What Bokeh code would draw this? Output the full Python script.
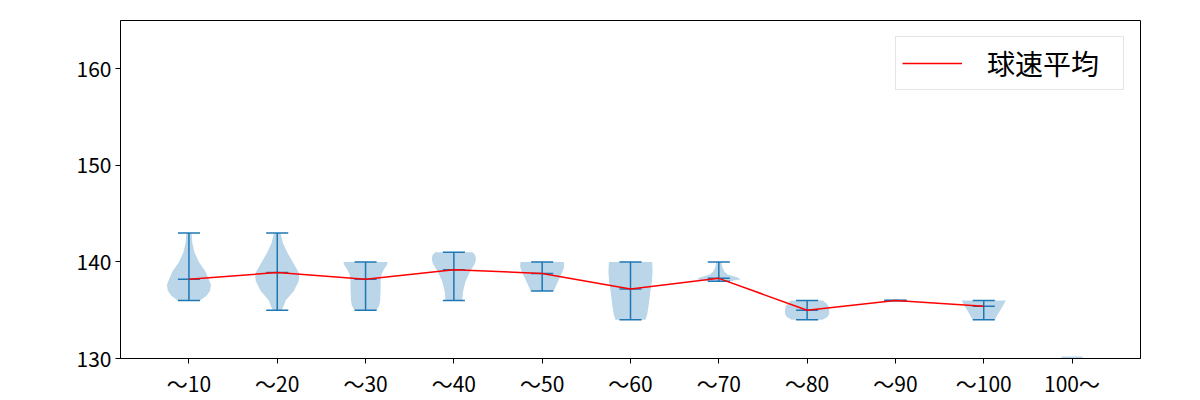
from bokeh.plotting import figure
from bokeh.models import Range1d, FixedTicker
from bokeh.embed import file_html
from bokeh.resources import INLINE

# ---- data ----
categories = ["～10", "～20", "～30", "～40", "～50", "～60", "～70", "～80", "～90", "～100", "100～"]
means = [138.2, 138.9, 138.2, 139.2, 138.8, 137.2, 138.3, 135.0, 136.0, 135.4]
mins = [136, 135, 135, 136, 137, 134, 138, 134, 136, 134]
maxs = [143, 143, 140, 141, 140, 140, 140, 136, 136, 136]

# violin outline: speed levels and relative half-width at each level
profile_levels = [
    [136, 136.5, 137, 137.6, 138.2, 139, 140, 141, 142, 143],
    [135, 135.5, 136, 137, 138, 138.5, 139, 140, 141, 142, 143],
    [135, 135.5, 136, 137, 138, 138.7, 139.3, 139.7, 140],
    [136, 136.5, 137, 138, 138.6, 139.2, 139.8, 140.3, 140.7, 141],
    [137, 137.5, 138, 138.5, 139, 139.5, 140],
    [134, 134.5, 135, 136, 137, 138, 139, 140],
    [138, 138.2, 138.4, 138.7, 139, 139.5, 140],
    [134, 134.3, 134.6, 135, 135.4, 135.7, 136],
    [],
    [134, 134.5, 135, 135.5, 136],
    [128.5, 129.5, 130.2],
]
profile_widths = [
    [0.5, 0.8, 0.95, 1.0, 0.9, 0.75, 0.45, 0.25, 0.15, 0.12],
    [0.2, 0.3, 0.38, 0.75, 0.97, 1.0, 0.95, 0.7, 0.45, 0.25, 0.15],
    [0.5, 0.62, 0.66, 0.68, 0.68, 0.72, 0.85, 0.97, 1.0],
    [0.38, 0.4, 0.42, 0.53, 0.65, 0.78, 0.95, 1.0, 0.97, 0.85],
    [0.53, 0.62, 0.72, 0.82, 0.92, 1.0, 0.98],
    [0.68, 0.75, 0.79, 0.85, 0.9, 0.97, 1.0, 0.98],
    [0.5, 1.0, 0.85, 0.4, 0.25, 0.15, 0.12],
    [0.7, 0.92, 1.0, 1.0, 0.97, 0.88, 0.72],
    [],
    [0.5, 0.62, 0.75, 0.88, 1.0],
    [1.0, 0.7, 0.45],
]
y_ticks = [130, 140, 150, 160]
legend_label = "球速平均"

# ---- styling ----
FONT = "Noto Sans CJK JP"
BLUE = "#1f77b4"
HALF = 0.25   # max half-width of a violin
CAP = 0.125   # half-width of cap lines

positions = list(range(1, len(categories) + 1))

p = figure(width=1200, height=400, output_backend="svg", toolbar_location=None,
           x_range=Range1d(0.225, 11.775), y_range=Range1d(130, 165),
           min_border_left=120, min_border_right=60, min_border_top=20, min_border_bottom=40)
p.xgrid.visible = False
p.ygrid.visible = False
p.outline_line_color = "black"
p.outline_line_width = 1
p.background_fill_color = "white"
p.border_fill_color = "white"

# violin bodies
xs, ys = [], []
for pos, lv, wd in zip(positions, profile_levels, profile_widths):
    if not lv:
        continue
    right = [pos + w * HALF for w in wd]
    left = [pos - w * HALF for w in wd][::-1]
    xs.append(right + left)
    ys.append(lv + lv[::-1])
p.patches(xs, ys, fill_color=BLUE, fill_alpha=0.3, line_color=None)

# bars: vertical ranges and caps
n = len(means)
pos_n = positions[:n]
p.segment(x0=pos_n, y0=mins, x1=pos_n, y1=maxs, line_color=BLUE, line_width=1.5)
for vals in (mins, maxs, means):
    p.segment(x0=[x - CAP for x in pos_n], y0=vals, x1=[x + CAP for x in pos_n], y1=vals,
              line_color=BLUE, line_width=1.5)

# mean line
p.line(pos_n, means, line_color="#ff0000", line_width=1.5, legend_label=legend_label)

# axes
p.xaxis.ticker = FixedTicker(ticks=positions)
p.xaxis.major_label_overrides = {pos: lab for pos, lab in zip(positions, categories)}
p.yaxis.ticker = FixedTicker(ticks=y_ticks)
for ax in (p.xaxis[0], p.yaxis[0]):
    ax.axis_line_color = "black"
    ax.major_tick_line_color = "black"
    ax.major_tick_out = 5
    ax.major_tick_in = 0
    ax.minor_tick_line_color = None
    ax.major_label_text_font = FONT
    ax.major_label_text_font_size = "21px"
    ax.major_label_text_color = "black"
    ax.major_label_standoff = 4

# legend
lg = p.legend[0]
lg.location = "top_right"
lg.margin = 16
lg.padding = 6
lg.glyph_width = 60
lg.label_standoff = 25
lg.label_width = 130
lg.label_text_font = FONT
lg.label_text_font_size = "28px"
lg.label_text_color = "black"
lg.border_line_color = "#cccccc"
lg.border_line_width = 1
lg.background_fill_alpha = 0.8

open("out.html", "w").write(file_html(p, INLINE))
